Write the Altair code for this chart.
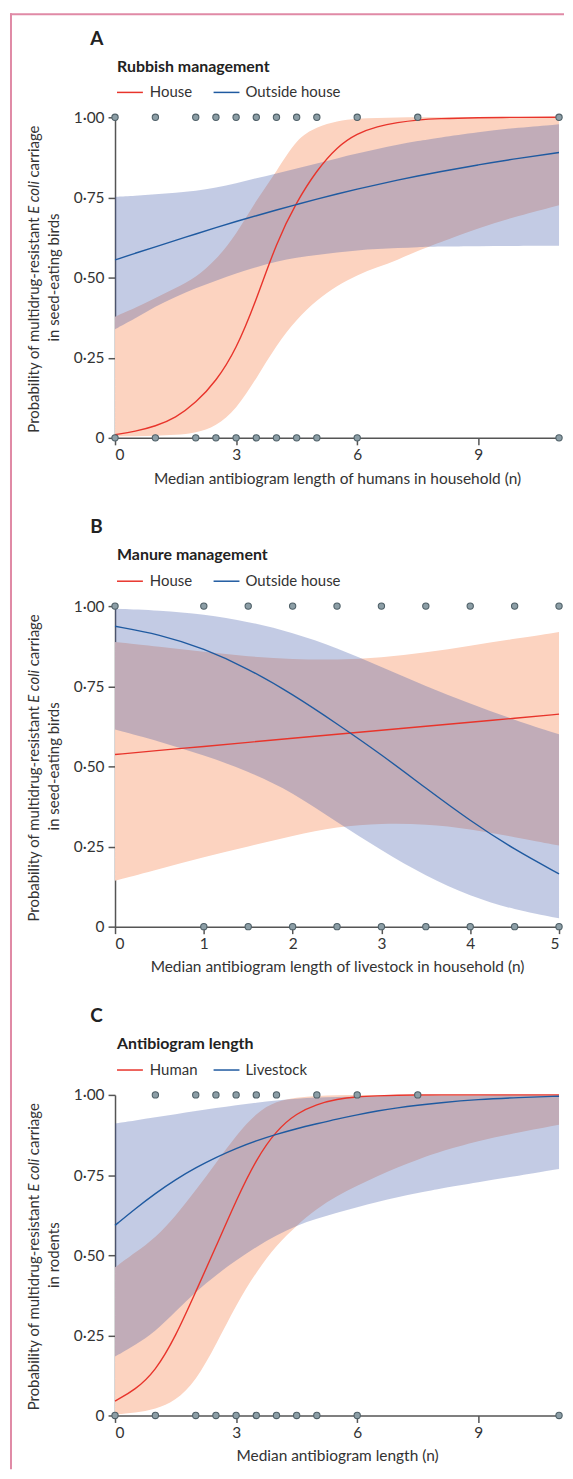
import altair as alt
import pandas as pd

FONT = "Lato"
RED = "#e8342b"
BLUE = "#1f5aa0"
ORANGE_FILL = "#fcd3c0"
BLUE_FILL = "#3752a5"
PT_FILL = "#8c9ea6"
PT_STROKE = "#4f6068"
FRAME = "#e08aa6"
TXT = "#333333"

# ---------------- Panel A: Rubbish management ----------------
A_x = [0, 0.5, 1, 1.5, 2, 2.5, 3, 3.5, 4, 4.5, 5, 5.5, 6, 6.5, 7, 7.5, 8, 9, 10, 11]
A_house = [0.010, 0.020, 0.036, 0.062, 0.109, 0.176, 0.275, 0.43, 0.61, 0.737, 0.835, 0.908, 0.95, 0.972, 0.984, 0.992, 0.996, 0.999, 1.0, 1.0]
A_house_lo = [0.005, 0.005, 0.006, 0.009, 0.015, 0.036, 0.088, 0.185, 0.29, 0.37, 0.43, 0.475, 0.508, 0.532, 0.555, 0.584, 0.607, 0.655, 0.693, 0.726]
A_house_hi = [0.378, 0.405, 0.436, 0.467, 0.50, 0.555, 0.633, 0.742, 0.83, 0.934, 0.97, 0.989, 0.996, 0.998, 0.999, 1.0, 1.0, 1.0, 1.0, 1.0]
A_out = [0.555, 0.576, 0.596, 0.616, 0.636, 0.656, 0.675, 0.693, 0.711, 0.728, 0.745, 0.761, 0.776, 0.790, 0.804, 0.817, 0.829, 0.852, 0.872, 0.89]
A_out_lo = [0.339, 0.372, 0.41, 0.44, 0.467, 0.49, 0.513, 0.533, 0.55, 0.562, 0.571, 0.578, 0.585, 0.589, 0.592, 0.595, 0.597, 0.598, 0.599, 0.599]
A_out_hi = [0.752, 0.755, 0.76, 0.765, 0.77, 0.78, 0.794, 0.81, 0.825, 0.84, 0.856, 0.872, 0.887, 0.901, 0.915, 0.926, 0.936, 0.954, 0.968, 0.978]
A_top = [0, 1, 2, 2.5, 3, 3.5, 4, 4.5, 5, 6, 7.5, 11]
A_bottom = [0, 1, 2, 2.5, 3, 3.5, 4, 4.5, 5, 6, 11]

# ---------------- Panel B: Manure management ----------------
B_x = [0, 0.5, 1, 1.5, 2, 2.5, 3, 3.5, 4, 4.5, 5]
B_house = [0.537, 0.55, 0.562, 0.575, 0.588, 0.60, 0.613, 0.625, 0.638, 0.65, 0.663]
B_house_lo = [0.143, 0.18, 0.217, 0.25, 0.284, 0.312, 0.322, 0.32, 0.305, 0.279, 0.253]
B_house_hi = [0.888, 0.873, 0.857, 0.843, 0.834, 0.832, 0.839, 0.855, 0.876, 0.898, 0.919]
B_out = [0.937, 0.912, 0.868, 0.805, 0.725, 0.633, 0.537, 0.432, 0.33, 0.24, 0.165]
B_out_lo = [0.615, 0.578, 0.535, 0.485, 0.42, 0.325, 0.238, 0.157, 0.095, 0.052, 0.026]
B_out_hi = [0.992, 0.987, 0.975, 0.952, 0.917, 0.87, 0.81, 0.75, 0.695, 0.645, 0.60]
B_top = [0, 1, 1.5, 2, 2.5, 3, 3.5, 4, 4.5, 5]
B_bottom = [1, 1.5, 2, 2.5, 3, 3.5, 4, 4.5, 5]

# ---------------- Panel C: Antibiogram length ----------------
C_x = [0, 0.5, 1, 1.5, 2, 2.5, 3, 3.5, 4, 4.5, 5, 5.5, 6, 6.5, 7, 7.5, 8, 9, 10, 11]
C_human = [0.045, 0.08, 0.138, 0.246, 0.386, 0.526, 0.671, 0.80, 0.89, 0.943, 0.971, 0.987, 0.994, 0.997, 0.999, 1.0, 1.0, 1.0, 1.0, 1.0]
C_human_lo = [0.003, 0.008, 0.019, 0.045, 0.107, 0.22, 0.345, 0.448, 0.531, 0.593, 0.645, 0.685, 0.717, 0.747, 0.774, 0.798, 0.821, 0.857, 0.883, 0.907]
C_human_hi = [0.462, 0.508, 0.554, 0.622, 0.702, 0.788, 0.873, 0.945, 0.981, 0.992, 0.997, 0.999, 1.0, 1.0, 1.0, 1.0, 1.0, 1.0, 1.0, 1.0]
C_live = [0.593, 0.645, 0.693, 0.736, 0.773, 0.805, 0.833, 0.857, 0.877, 0.895, 0.91, 0.925, 0.938, 0.95, 0.96, 0.968, 0.975, 0.986, 0.992, 0.996]
C_live_lo = [0.184, 0.22, 0.262, 0.324, 0.386, 0.438, 0.484, 0.526, 0.562, 0.593, 0.614, 0.633, 0.65, 0.666, 0.681, 0.694, 0.707, 0.728, 0.748, 0.769]
C_live_hi = [0.911, 0.92, 0.93, 0.94, 0.95, 0.959, 0.968, 0.976, 0.983, 0.988, 0.992, 0.994, 0.995, 0.996, 0.997, 0.997, 0.998, 0.998, 0.999, 0.999]
C_top = [1, 2, 2.5, 3, 3.5, 4, 5, 6, 7.5]
C_bottom = [0, 1, 2, 2.5, 3, 3.5, 4, 4.5, 5, 6, 11]

Y_TICKS = [0, 0.25, 0.5, 0.75, 1]
W, H = 446, 322
INTERP = "basis"

YLAB = "datum.value == 0 ? '0' : replace(format(datum.value, '.2f'), '.', '\u00b7')"


def txt(text, x, y, size=15, weight="normal", style="normal", align="left",
        baseline="alphabetic", angle=0, color=TXT):
    return alt.Chart(pd.DataFrame({"k": [0]})).mark_text(
        text=text, font=FONT, fontSize=size, fontWeight=weight, fontStyle=style,
        align=align, baseline=baseline, angle=angle, color=color
    ).encode(x=alt.value(x), y=alt.value(y))


def rule(color, width, x, y, x2):
    return alt.Chart(pd.DataFrame({"k": [0]})).mark_rule(
        color=color, strokeWidth=width).encode(
        x=alt.value(x), y=alt.value(y), x2=alt.value(x2))


def bar(color, x, x2, y, y2):
    return alt.Chart(pd.DataFrame({"k": [0]})).mark_rect(
        color=color, strokeWidth=0).encode(
        x=alt.value(x), x2=alt.value(x2), y=alt.value(y), y2=alt.value(y2))


def panel(xg, red, red_lo, red_hi, blue, blue_lo, blue_hi, top_pts, bot_pts,
          xmax, xticks, letter, title, leg1, leg2, xtitle, ytitle2,
          frame_y1, frame_y2, top_frame):
    df = pd.DataFrame({"x": xg, "red": red, "red_lo": red_lo, "red_hi": red_hi,
                       "blue": blue, "blue_lo": blue_lo, "blue_hi": blue_hi})
    pts = pd.DataFrame({"x": top_pts + bot_pts,
                        "y": [1.0] * len(top_pts) + [0.0] * len(bot_pts)})
    xs = alt.Scale(domain=[0, xmax], nice=False, zero=False)
    ys = alt.Scale(domain=[0, 1], nice=False)
    xaxis = alt.Axis(values=xticks, title=xtitle, format="d", labelPadding=3,
                     titlePadding=8)
    yaxis = alt.Axis(values=Y_TICKS, title=None, labelExpr=YLAB, labelPadding=4)
    X = alt.X("x:Q", scale=xs, axis=xaxis)
    base = alt.Chart(df)
    band_r = base.mark_area(color=ORANGE_FILL, interpolate=INTERP).encode(
        x=X, y=alt.Y("red_lo:Q", scale=ys, axis=yaxis), y2="red_hi:Q")
    band_b = base.mark_area(color=BLUE_FILL, opacity=0.3, interpolate=INTERP).encode(
        x=X, y=alt.Y("blue_lo:Q", scale=ys, axis=yaxis), y2="blue_hi:Q")
    line_r = base.mark_line(color=RED, strokeWidth=1.4, interpolate=INTERP).encode(
        x=X, y=alt.Y("red:Q", scale=ys, axis=yaxis))
    line_b = base.mark_line(color=BLUE, strokeWidth=1.4, interpolate=INTERP).encode(
        x=X, y=alt.Y("blue:Q", scale=ys, axis=yaxis))
    points = alt.Chart(pts).mark_circle(
        size=40, color=PT_FILL, stroke=PT_STROKE, strokeWidth=1.1, opacity=1
    ).encode(x=X, y=alt.Y("y:Q", scale=ys, axis=yaxis))

    layers = [band_r, band_b, line_r, line_b, points]
    # panel letter, title, legend
    layers.append(txt(letter, -25, -73, size=19, weight="bold", color="#222222"))
    layers.append(txt(title, 2, -46, size=16, weight="bold", color="#222222"))
    layers.append(rule(RED, 1.5, 2, -25, 28))
    layers.append(txt(leg1, 35, -25, size=15, baseline="middle"))
    layers.append(rule(BLUE, 1.5, 99, -25, 125))
    layers.append(txt(leg2, 131, -25, size=15, baseline="middle"))
    # y title with italic E coli
    ec_lo, ec_hi = 97, 64
    layers.append(txt("Probability of multidrug-resistant", -81, ec_lo + 3.5,
                      align="right", baseline="middle", angle=270))
    layers.append(txt("E coli", -81, ec_lo, style="italic", align="left",
                      baseline="middle", angle=270))
    layers.append(txt("carriage", -81, ec_hi - 3.5, align="left",
                      baseline="middle", angle=270))
    layers.append(txt(ytitle2, -61, H / 2, align="center", baseline="middle",
                      angle=270))
    # frame (pink figure border)
    layers.append(bar(FRAME, -105.5, -103.5, frame_y1, frame_y2))
    if top_frame:
        layers.append(bar(FRAME, -105.5, 451, frame_y1, frame_y1 + 2))
    return alt.layer(*layers).properties(width=W, height=H)


pA = panel(A_x, A_house, A_house_lo, A_house_hi, A_out, A_out_lo, A_out_hi,
           A_top, A_bottom, 11, [0, 3, 6, 9], "A", "Rubbish management",
           "House", "Outside house",
           "Median antibiogram length of humans in household (n)",
           "in seed-eating birds", -104.5, H + 172, True)
pB = panel(B_x, B_house, B_house_lo, B_house_hi, B_out, B_out_lo, B_out_hi,
           B_top, B_bottom, 5, [0, 1, 2, 3, 4, 5], "B", "Manure management",
           "House", "Outside house",
           "Median antibiogram length of livestock in household (n)",
           "in seed-eating birds", -172, H + 172, False)
pC = panel(C_x, C_human, C_human_lo, C_human_hi, C_live, C_live_lo, C_live_hi,
           C_top, C_bottom, 11, [0, 3, 6, 9], "C", "Antibiogram length",
           "Human", "Livestock",
           "Median antibiogram length (n)",
           "in rodents", -172, 376, False)

chart = alt.vconcat(pA, pB, pC, spacing=169, bounds="flush").configure_view(
    stroke=None
).configure_axis(
    grid=False, domainColor="#555555", domainWidth=1.5, tickColor="#555555",
    tickWidth=1.5, tickSize=7, labelFont=FONT, labelFontSize=15.5,
    labelColor=TXT, titleFont=FONT, titleFontSize=15.5, titleColor=TXT,
    titleFontWeight="normal"
).properties(
    padding={"left": 1.5, "top": 1.5, "right": 0, "bottom": 0}
)

chart.save("out.html", embed_options={"renderer": "svg", "actions": False})
